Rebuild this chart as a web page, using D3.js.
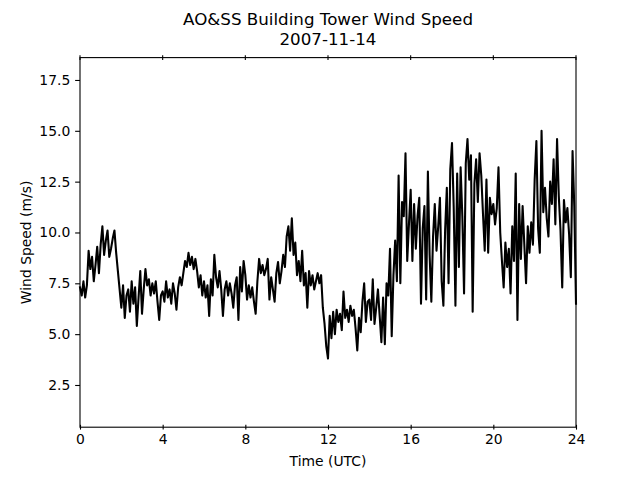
<!DOCTYPE html>
<html>
<head>
<meta charset="utf-8">
<script src="https://cdn.jsdelivr.net/npm/d3@7"></script>
<style>
  body { margin: 0; background: #fff; }
  text { font-family: "DejaVu Sans", sans-serif; fill: #000; }
</style>
</head>
<body>
<div id="chart"></div>
<script>
// ---- chart data (5-minute wind speed, m/s) ----
const titleLines = ["AO&SS Building Tower Wind Speed", "2007-11-14"];
const xTicks = [0, 4, 8, 12, 16, 20, 24];
const yTicks = [2.5, 5.0, 7.5, 10.0, 12.5, 15.0, 17.5];
const stepMinutes = 5;
const speed = [
  // 00h
  7.3, 6.9, 7.6, 6.8, 7.4, 9.1, 8.2, 8.8, 7.6, 8.4, 9.3, 8.0,
  // 01h
  9.4, 10.3, 8.9, 9.6, 10.1, 8.8, 9.2, 9.7, 10.1, 9.0, 8.1, 7.2,
  // 02h
  6.3, 7.4, 5.8, 6.9, 7.2, 6.1, 7.6, 6.5, 7.3, 5.4, 6.8, 8.1,
  // 03h
  6.0, 7.2, 8.2, 7.4, 7.7, 6.9, 7.5, 7.0, 7.6, 6.6, 5.7, 6.9,
  // 04h
  7.1, 6.6, 7.6, 6.8, 7.2, 6.5, 7.5, 7.0, 6.2, 7.3, 7.8, 7.4,
  // 05h
  8.0, 8.6, 8.3, 9.0, 8.4, 8.8, 8.2, 8.7, 8.1, 7.3, 7.9, 6.9,
  // 06h
  7.6, 6.8, 7.4, 5.9, 7.7, 6.9, 8.9, 7.8, 7.3, 8.1, 7.2, 5.9,
  // 07h
  7.2, 7.6, 6.9, 7.5, 7.0, 6.3, 7.4, 7.8, 5.7, 8.3, 7.1, 8.6,
  // 08h
  7.9, 6.7, 7.4, 6.8, 7.3, 6.6, 6.0, 7.6, 8.7, 8.0, 8.4, 7.9,
  // 09h
  8.2, 8.7, 6.7, 7.8, 7.2, 6.6, 8.0, 8.55, 7.5, 8.1, 8.9, 8.3,
  // 10h
  9.8, 10.3, 9.1, 10.7, 8.9, 9.5, 7.9, 8.6, 7.6, 9.1, 7.4, 8.0,
  // 11h
  6.3, 8.1, 7.4, 7.9, 7.2, 7.6, 8.0, 7.5, 7.9, 6.3, 5.5, 4.4,
  // 12h
  3.8, 5.9, 4.8, 6.1, 5.0, 6.2, 5.6, 6.0, 5.2, 7.1, 5.8, 6.2,
  // 13h
  5.6, 6.4, 5.9, 6.2, 5.3, 4.2, 5.8, 5.1, 6.6, 7.5, 5.6, 6.6,
  // 14h
  6.7, 5.7, 7.7, 5.5, 6.3, 7.2, 5.9, 4.6, 6.8, 4.5, 7.5, 6.9,
  // 15h
  9.2, 4.9, 7.9, 9.6, 7.6, 12.8, 7.5, 11.5, 10.8, 13.9, 8.6, 10.4,
  // 16h
  12.1, 8.6, 11.4, 9.2, 10.8, 11.7, 6.5, 10.2, 11.3, 6.7, 13.0, 8.9,
  // 17h
  6.6, 9.8, 11.4, 9.1, 10.3, 11.7, 7.6, 6.4, 10.1, 12.2, 7.5, 13.1,
  // 18h
  14.4, 11.2, 6.4, 12.9, 8.3, 13.2, 10.8, 7.0, 13.4, 14.6, 12.6, 13.8,
  // 19h
  6.1, 12.4, 13.6, 11.5, 13.9, 12.8, 10.9, 9.1, 12.6, 9.0, 11.7, 10.9,
  // 20h
  11.4, 10.4, 11.2, 13.2, 10.0, 8.6, 7.3, 9.5, 8.3, 9.2, 7.0, 10.3,
  // 21h
  8.6, 12.9, 5.7, 11.4, 8.7, 11.3, 9.4, 7.5, 10.3, 9.0, 10.5, 9.4,
  // 22h
  12.6, 14.5, 10.2, 9.0, 15.0, 11.0, 12.2, 10.7, 9.8, 12.5, 11.4, 13.6,
  // 23h
  10.4, 14.6, 11.8, 10.1, 7.3, 11.6, 10.5, 11.2, 9.9, 7.8, 14.0, 11.3,
  // 24h
  6.5
];

// ---- layout (matplotlib default figure 6.4x4.8 in @100dpi) ----
const width = 640, height = 480;
const plotLeft = 80, plotRight = 576, plotTop = 57.6, plotBottom = 427.2;

const svg = d3.select('#chart').append('svg')
  .attr('width', width)
  .attr('height', height);

const x = d3.scaleLinear().domain([0, 24]).range([plotLeft, plotRight]);
const y = d3.scaleLinear().domain([0.424, 18.6]).range([plotBottom, plotTop]);

// data line
const line = d3.line()
  .x((d, i) => x(i * stepMinutes / 60))
  .y(d => y(d));

svg.append('path')
  .datum(speed)
  .attr('d', line)
  .attr('fill', 'none')
  .attr('stroke', '#000')
  .attr('stroke-width', 2.08)
  .attr('stroke-linejoin', 'round')
  .attr('stroke-linecap', 'square');

// x axis (bottom) - ticks straddle the spine
const xAxis = svg.append('g')
  .attr('transform', `translate(0,${plotBottom})`)
  .call(d3.axisBottom(x).tickValues(xTicks).tickFormat(d3.format('d'))
    .tickSize(2.4).tickSizeOuter(0).tickPadding(4.86));
xAxis.select('.domain').remove();
xAxis.selectAll('.tick line').attr('y1', -2.4).attr('y2', 2.4).attr('stroke-width', 1.1);
xAxis.selectAll('.tick text').style('font-size', '13.9px').attr('dy', '0.71em');

// top ticks
svg.append('g')
  .selectAll('line')
  .data(xTicks)
  .join('line')
    .attr('x1', d => x(d)).attr('x2', d => x(d))
    .attr('y1', plotTop - 2.4).attr('y2', plotTop + 2.4)
    .attr('stroke', '#000').attr('stroke-width', 1.1);

// y axis (left)
const yAxis = svg.append('g')
  .attr('transform', `translate(${plotLeft},0)`)
  .call(d3.axisLeft(y).tickValues(yTicks).tickFormat(d3.format('.1f'))
    .tickSize(4.86).tickSizeOuter(0).tickPadding(4.86));
yAxis.select('.domain').remove();
yAxis.selectAll('.tick line').attr('stroke-width', 1.1);
yAxis.selectAll('.tick text').style('font-size', '13.9px');

// frame
svg.append('rect')
  .attr('x', plotLeft).attr('y', plotTop)
  .attr('width', plotRight - plotLeft).attr('height', plotBottom - plotTop)
  .attr('fill', 'none')
  .attr('stroke', '#000')
  .attr('stroke-width', 1.1);

// title
svg.append('g')
  .selectAll('text')
  .data(titleLines)
  .join('text')
    .attr('x', (plotLeft + plotRight) / 2)
    .attr('y', (d, i) => 24.5 + i * 20)
    .attr('text-anchor', 'middle')
    .style('font-size', '16.7px')
    .text(d => d);

// axis labels
svg.append('text')
  .attr('x', (plotLeft + plotRight) / 2)
  .attr('y', 466)
  .attr('text-anchor', 'middle')
  .style('font-size', '13.9px')
  .text('Time (UTC)');

svg.append('text')
  .attr('transform', `translate(31,${(plotTop + plotBottom) / 2}) rotate(-90)`)
  .attr('text-anchor', 'middle')
  .style('font-size', '13.9px')
  .text('Wind Speed (m/s)');
</script>
</body>
</html>
